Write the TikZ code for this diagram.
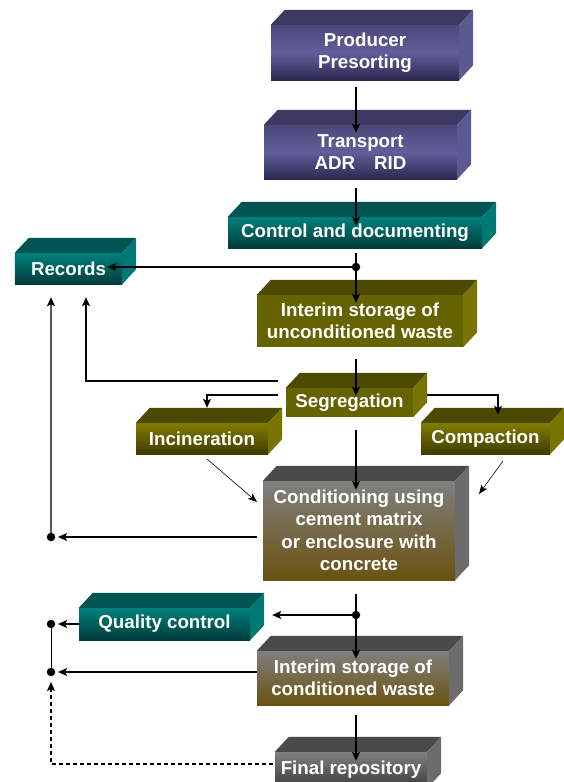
\documentclass[tikz,border=0pt]{standalone}
\usepackage{fontspec}
\setmainfont{Liberation Sans}
\usetikzlibrary{arrows.meta,calc}

\definecolor{purplefront}{HTML}{615E9B}
\definecolor{purplelow}{HTML}{2B2950}
\definecolor{purpletop}{HTML}{3C3A62}
\definecolor{purpleside}{HTML}{5B5992}
\definecolor{tealfront}{HTML}{00807C}
\definecolor{teallow}{HTML}{003C3A}
\definecolor{tealtop}{HTML}{005452}
\definecolor{tealside}{HTML}{007874}
\definecolor{olivefront}{HTML}{656200}
\definecolor{olivehigh}{HTML}{807C00}
\definecolor{olivelow}{HTML}{3F3C00}
\definecolor{olivetop}{HTML}{4C4900}
\definecolor{oliveside}{HTML}{787400}
\definecolor{greyfront}{HTML}{7F7F7F}
\definecolor{greylow}{HTML}{3C3C3C}
\definecolor{browntop}{HTML}{6A5210}
\definecolor{greytop}{HTML}{4A4A4A}
\definecolor{greyside}{HTML}{6C6C6C}

% top and side faces of a block
\newcommand{\blockfaces}[3]{%
  \fill[#2] (#1.north west) -- ++(14,-15) -- ($(#1.north east)+(14,-15)$) -- (#1.north east) -- cycle;
  \fill[#3] (#1.north east) -- ++(14,-15) -- ($(#1.south east)+(14,-15)$) -- (#1.south east) -- cycle;}

\begin{document}
\begin{tikzpicture}[x=1bp,y=-1bp,
  blk/.style={draw=none, text=white, align=center, inner sep=0pt,
    font=\bfseries\fontsize{18.8pt}{22.6pt}\selectfont},
  purpleblk/.style={blk, top color=purpletop!60!purplefront, bottom color=purplelow, middle color=purplefront},
  tealblk/.style={blk, top color=tealfront, bottom color=teallow},
  oliveblk/.style={blk, fill=olivefront},
  olivegrad/.style={blk, top color=olivehigh, bottom color=olivelow},
  brownblk/.style={blk, top color=greyfront, bottom color=browntop},
  greyblk/.style={blk, top color=greyfront, bottom color=greylow},
  flow/.style={-{Stealth[length=9bp,width=8bp,inset=2bp]}, line width=1.6bp},
  link/.style={-{Stealth[length=9bp,width=8bp,inset=2bp]}, line width=1.1bp},
  thinlink/.style={-{Stealth[length=9bp,width=7bp,inset=2bp]}, line width=0.6bp},
  dot/.style={circle, fill=black, inner sep=0pt, minimum size=8.5bp}]
\useasboundingbox (0,0) rectangle (564,782);

% Blocks
\node[purpleblk, minimum width=188bp, minimum height=55bp] (prod) at (365,52.5) {Producer\\Presorting};
\node[purpleblk, minimum width=193bp, minimum height=54bp] (trans) at (360.5,152) {Transport\\ADR\hspace{19bp}RID};
\node[tealblk, minimum width=254bp, minimum height=31bp] (ctrl) at (355,232.5) {Control and documenting};
\node[tealblk, minimum width=107bp, minimum height=31bp] (rec) at (68.5,268.5) {Records};
\node[oliveblk, minimum width=206bp, minimum height=52bp] (ius) at (360,321) {Interim storage of\\unconditioned waste};
\node[oliveblk, minimum width=127bp, minimum height=29bp] (seg) at (349.5,402.5) {Segregation};
\node[olivegrad, minimum width=132bp, minimum height=31bp] (inc) at (202,438.5) {Incineration};
\node[olivegrad, minimum width=129bp, minimum height=31bp] (comp) at (485.5,438.5) {Compaction};
\node[brownblk, minimum width=192bp, minimum height=99bp] (cond) at (359,530.5) {Conditioning using\\cement matrix\\or enclosure with\\concrete};
\node[tealblk, minimum width=171bp, minimum height=32bp] (qc) at (164.5,624) {Quality control};
\node[brownblk, minimum width=192bp, minimum height=54bp] (ics) at (353,678) {Interim storage of\\conditioned waste};
\node[greyblk, minimum width=152bp, minimum height=36bp] (fin) at (351,770) {Final repository};

\blockfaces{prod}{purpletop}{purpleside}
\blockfaces{trans}{purpletop}{purpleside}
\blockfaces{ctrl}{tealtop}{tealside}
\blockfaces{rec}{tealtop}{tealside}
\blockfaces{ius}{olivetop}{oliveside}
\blockfaces{seg}{olivetop}{oliveside}
\blockfaces{inc}{olivetop}{oliveside}
\blockfaces{comp}{olivetop}{oliveside}
\blockfaces{cond}{greytop}{greyside}
\blockfaces{qc}{tealtop}{tealside}
\blockfaces{ics}{greytop}{greyside}
\blockfaces{fin}{greytop}{greyside}

% Junctions
\coordinate (axis) at (356,0);
\node[dot] (j1) at (356,267) {};
\node[dot] (j2) at (356,615) {};
\node[dot] (d1) at (51,537) {};
\node[dot] (d2) at (51,624) {};
\node[dot] (d3) at (51,672) {};
\coordinate (recL) at ([xshift=-17.5bp]rec.south);
\coordinate (recR) at ([xshift=17.5bp]rec.south);
\coordinate (segA) at (278,381);
\coordinate (segB) at (278,395);
\coordinate (segC) at (427,395);
\coordinate (incD) at (207,459);
\coordinate (condD) at (257,502);
\coordinate (compD) at (503,461);
\coordinate (condE) at (479,494);
\coordinate (finL) at (273,764);

% Main line
\draw[flow, shorten <=7bp, shorten >=-8bp] (prod.south -| axis) -- (trans.north -| axis);
\draw[flow, shorten <=9bp, shorten >=-9bp] (trans.south -| axis) -- (ctrl.north -| axis);
\draw[line width=1.6bp, shorten <=5bp] (ctrl.south -| axis) -- (j1.center);
\draw[flow, shorten >=-8bp] (j1.center) -- (ius.north -| axis);
\draw[flow, shorten <=12bp, shorten >=-8bp] (ius.south -| axis) -- (seg.north -| axis);
\draw[flow, shorten <=13bp, shorten >=-9bp] (seg.south -| axis) -- (cond.north -| axis);
\draw[line width=1.6bp, shorten <=14bp] (cond.south -| axis) -- (j2.center);
\draw[flow, shorten >=-8bp] (j2.center) -- (ics.north -| axis);
\draw[flow, shorten <=10bp, shorten >=-9bp] (ics.south -| axis) -- (fin.north -| axis);

% Side branches
\draw[link, shorten >=-15bp] (j1.center) -- (j1 -| rec.east);
\draw[link, shorten >=13bp] (segA) -| (recR);
\draw[link, shorten >=15bp] (segB) -| ([xshift=5bp]inc.north);
\draw[link, shorten >=8bp] (segC) -| ([xshift=12.5bp]comp.north);
\draw[thinlink] (incD) -- (condD);
\draw[thinlink] (compD) -- (condE);
\draw[link, line width=1.4bp, shorten >=13bp] (d1.center) -- (recL);
\draw[link, shorten <=6bp, shorten >=7bp] (d1 -| cond.west) -- (d1.center);
\draw[link, line width=1.3bp, shorten >=22bp] (j2.center) -- (j2 -| qc.east);
\draw[link, shorten >=7bp] (qc.west) -- (d2.center);
\draw[link, shorten >=7bp] (d3 -| ics.west) -- (d3.center);
\draw[line width=1bp] (d2.center) -- (d3.center);
\draw[link, dash pattern=on 4bp off 3bp, shorten >=10bp] (finL) -| (d3.center);
\end{tikzpicture}
\end{document}
